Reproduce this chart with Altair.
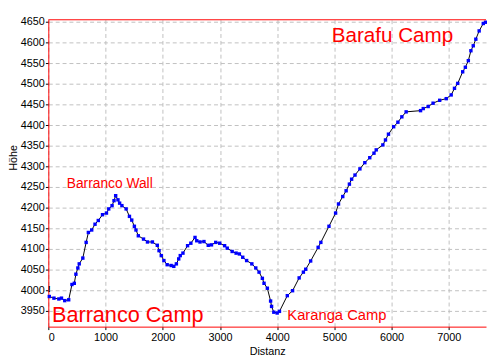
import altair as alt
import pandas as pd

# Elevation profile data (distance in m, elevation in m)
dist = [17, 98, 184, 230, 287, 356, 413, 454, 482, 516,
        540, 603, 661, 700, 758, 816, 873, 947, 1016, 1056,
        1114, 1148, 1177, 1217, 1246, 1286, 1360, 1418, 1458, 1504,
        1532, 1573, 1664, 1733, 1819, 1905, 1935, 1974, 2020, 2077,
        2146, 2193, 2238, 2279, 2306, 2353, 2434, 2491, 2564, 2594,
        2651, 2720, 2795, 2852, 2926, 2995, 3081, 3127, 3213, 3282,
        3339, 3398, 3466, 3557, 3626, 3683, 3741, 3770, 3828, 3885,
        3902, 3941, 4000, 4040, 4177, 4269, 4384, 4458, 4499, 4585,
        4716, 4763, 4905, 5021, 5072, 5146, 5205, 5262, 5301, 5360,
        5446, 5532, 5618, 5692, 5731, 5847, 5893, 5945, 6036, 6110,
        6179, 6254, 6506, 6553, 6639, 6725, 6840, 6955, 7041, 7099,
        7156, 7242, 7289, 7341, 7386, 7427, 7472, 7530, 7602, 7642]
elev = [3985, 3981, 3979, 3981, 3975, 3977, 4014, 4017, 4039, 4054,
        4064, 4078, 4116, 4140, 4146, 4160, 4169, 4183, 4187, 4197,
        4205, 4217, 4229, 4219, 4211, 4205, 4197, 4179, 4170, 4155,
        4146, 4132, 4124, 4117, 4117, 4109, 4096, 4084, 4072, 4062,
        4060, 4058, 4064, 4076, 4084, 4090, 4108, 4114, 4128, 4120,
        4117, 4118, 4109, 4110, 4116, 4114, 4108, 4102, 4094, 4090,
        4088, 4080, 4072, 4064, 4054, 4044, 4029, 4017, 4005, 3974,
        3961, 3947, 3945, 3949, 3987, 3999, 4030, 4044, 4051, 4071,
        4104, 4116, 4155, 4187, 4209, 4227, 4241, 4257, 4269, 4279,
        4294, 4309, 4321, 4332, 4340, 4352, 4364, 4378, 4396, 4407,
        4420, 4432, 4435, 4440, 4445, 4453, 4460, 4464, 4473, 4489,
        4501, 4529, 4540, 4556, 4580, 4592, 4608, 4628, 4646, 4649]

# Annotations
label_text = ["Barranco Wall", "Barranco Camp", "Karanga Camp", "Barafu Camp"]
label_x = [322, 64, 4177, 4952]
label_y = [4248, 3924, 3929, 4602]
label_size = [14, 22, 15, 21]

x_ticks = [0, 1000, 2000, 3000, 4000, 5000, 6000, 7000]
y_ticks = list(range(3950, 4651, 50))

W, H = 445, 312
FONT = "Liberation Sans"

df = pd.DataFrame({"i": range(len(dist)), "d": dist, "h": elev})
lab = pd.DataFrame({"t": label_text, "d": label_x, "h": label_y, "s": label_size})
mark_df = pd.DataFrame({"t": ["!"], "d": [15], "h": [4003]})

xs = alt.Scale(domain=[0, 7650], nice=False, zero=False)
ys = alt.Scale(domain=[3912, 4655], nice=False, zero=False)

X = alt.X("d:Q", scale=xs, axis=alt.Axis(values=x_ticks, tickCount=len(x_ticks),
                                          title="Distanz", format="d",
                                          titlePadding=3, labelOverlap=False))
Y = alt.Y("h:Q", scale=ys, axis=alt.Axis(values=y_ticks, tickCount=len(y_ticks),
                                          title="Höhe", format="d",
                                          labelOverlap=False,
                                          titleAngle=270, titleX=-35, titleY=140,
                                          titleAlign="center", titleBaseline="middle"))

line = alt.Chart(df).mark_line(color="black", strokeWidth=1).encode(x=X, y=Y, order="i:Q")
pts = alt.Chart(df).mark_point(shape="square", filled=True, size=12, color="#0000ff",
                               opacity=1).encode(x="d:Q", y="h:Q")
texts = alt.Chart(lab).mark_text(align="left", baseline="alphabetic", color="#ff0000",
                                 font=FONT).encode(
    x="d:Q", y="h:Q", text="t:N", size=alt.Size("s:Q", scale=None, legend=None))
bang = alt.Chart(mark_df).mark_text(align="center", baseline="middle", color="black",
                                    font=FONT, fontSize=9, fontWeight="bold").encode(
    x="d:Q", y="h:Q", text="t:N")
top = alt.Chart(pd.DataFrame({"a": [0]})).mark_rule(color="#ff0000", strokeWidth=1).encode(
    x=alt.value(0), x2=alt.value(W), y=alt.value(0))

chart = alt.layer(line, pts, texts, bang, top).properties(
    width=W, height=H,
    autosize=alt.AutoSizeParams(type="none"),
    padding={"left": 41, "top": 9, "right": 1, "bottom": 34},
).configure_view(stroke=None).configure_axis(
    grid=True, gridColor="#c0c0c0", gridDash=[4, 3], gridWidth=1,
    domainColor="#ff0000", domainWidth=1,
    tickColor="black", tickSize=3, tickWidth=1,
    labelFont=FONT, labelFontSize=11, labelColor="black", labelPadding=2,
    titleFont=FONT, titleFontSize=11, titleFontWeight="normal", titleColor="black",
).configure_axisY(labelPadding=1)

chart.save("out.html", embed_options={"renderer": "svg", "actions": False})
